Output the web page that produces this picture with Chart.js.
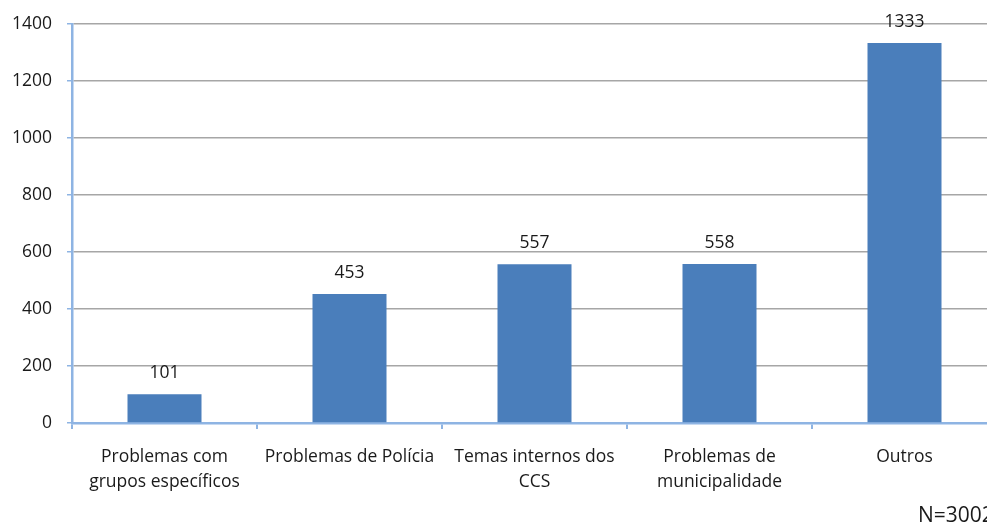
<!DOCTYPE html>
<html><head><meta charset="utf-8">
<script src="https://cdn.jsdelivr.net/npm/chart.js@4"></script>
<style>
html,body{margin:0;padding:0;background:#fff;overflow:hidden;width:987px;height:525px;}
#wrap{position:relative;width:1000px;height:525px;}
#note{position:absolute;left:918px;top:500px;font:21px "Open Sans",sans-serif;line-height:28px;color:#1a1a1a;white-space:nowrap;}
</style></head>
<body>
<div id="wrap"><canvas id="c" width="1000" height="525"></canvas><div id="note">N=3002</div></div>
<script>
const categories = [["Problemas com","grupos específicos"],"Problemas de Polícia",["Temas internos dos","CCS"],["Problemas de","municipalidade"],"Outros"];
const values = [101, 453, 557, 558, 1333];
const yTicks = [0, 200, 400, 600, 800, 1000, 1200, 1400];

const FONT = {family: '"Open Sans", sans-serif', size: 17.5, lineHeight: 1.45};
const AXIS = '#8eb4e3';
const GRID = '#a6a6a6';

const labelPlugin = {
  id: 'vals',
  afterDatasetsDraw(chart) {
    const ctx = chart.ctx;
    const meta = chart.getDatasetMeta(0);
    ctx.save();
    ctx.font = '17.5px "Open Sans", sans-serif';
    ctx.fillStyle = '#1a1a1a';
    ctx.textAlign = 'center';
    ctx.textBaseline = 'middle';
    meta.data.forEach((bar, i) => {
      ctx.fillText(String(values[i]), bar.x, bar.y - 21);
    });
    ctx.restore();
  }
};

new Chart(document.getElementById('c'), {
  type: 'bar',
  data: {
    labels: categories,
    datasets: [{data: values, backgroundColor: '#4a7ebb', borderWidth: 0, categoryPercentage: 1, barPercentage: 0.4}]
  },
  options: {
    responsive: false,
    animation: false,
    layout: {padding: {top: 24, right: 3, left: 0, bottom: 0}},
    plugins: {legend: {display: false}, tooltip: {enabled: false}},
    scales: {
      x: {
        afterFit(s) { s.height = 102; s.paddingLeft = 0; s.paddingRight = 0; },
        grid: {display: true, drawOnChartArea: false, tickLength: 6, tickColor: AXIS, lineWidth: 2, offset: true},
        border: {color: AXIS, width: 2.5},
        ticks: {font: FONT, color: '#1a1a1a', padding: 15, maxRotation: 0, autoSkip: false}
      },
      y: {
        min: 0, max: 1400,
        afterFit(s) { s.width = 72; s.paddingTop = 0; s.paddingBottom = 0; },
        afterBuildTicks(s) { s.ticks = yTicks.map(v => ({value: v})); },
        grid: {color: (c) => c.tick && c.tick.value === 0 ? 'rgba(0,0,0,0)' : GRID, lineWidth: 1.5, tickLength: 5, tickColor: AXIS},
        border: {color: AXIS, width: 2.5},
        ticks: {font: FONT, color: '#1a1a1a', padding: 15, callback: (v) => String(v)}
      }
    }
  },
  plugins: [labelPlugin]
});
</script>
</body></html>
